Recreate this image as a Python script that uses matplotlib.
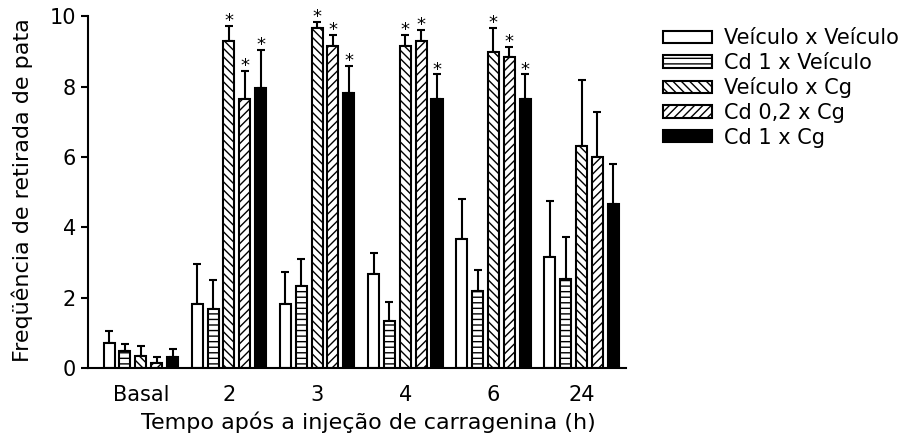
import numpy as np
import matplotlib
matplotlib.use("Agg")
import matplotlib.pyplot as plt

plt.rcParams["font.family"] = ["DejaVu Sans"]
plt.rcParams["hatch.linewidth"] = 1.0

# --- data ---
groups = ["Basal", "2", "3", "4", "6", "24"]
series = ["Veículo x Veículo", "Cd 1 x Veículo", "Veículo x Cg", "Cd 0,2 x Cg", "Cd 1 x Cg"]

veic_veic = [0.72, 1.82, 1.82, 2.67, 3.68, 3.16]
cd1_veic = [0.49, 1.67, 2.33, 1.34, 2.20, 2.53]
veic_cg = [0.34, 9.31, 9.68, 9.17, 8.99, 6.32]
cd02_cg = [0.15, 7.65, 9.17, 9.31, 8.84, 5.99]
cd1_cg = [0.32, 7.97, 7.82, 7.65, 7.65, 4.67]

err_veic_veic = [0.34, 1.13, 0.90, 0.59, 1.13, 1.60]
err_cd1_veic = [0.21, 0.85, 0.77, 0.53, 0.58, 1.21]
err_veic_cg = [0.29, 0.42, 0.16, 0.30, 0.69, 1.86]
err_cd02_cg = [0.16, 0.79, 0.30, 0.31, 0.30, 1.28]
err_cd1_cg = [0.22, 1.07, 0.77, 0.70, 0.70, 1.12]

# asterisks (significant) per series, per group
sig_veic_cg = [0, 1, 1, 1, 1, 0]
sig_cd02_cg = [0, 1, 1, 1, 1, 0]
sig_cd1_cg = [0, 1, 1, 1, 1, 0]

values = [veic_veic, cd1_veic, veic_cg, cd02_cg, cd1_cg]
errors = [err_veic_veic, err_cd1_veic, err_veic_cg, err_cd02_cg, err_cd1_cg]
sigs = [[0] * 6, [0] * 6, sig_veic_cg, sig_cd02_cg, sig_cd1_cg]

# --- styles ---
faces = ["white", "white", "white", "white", "black"]
hatches = [None, "---", "\\\\\\\\", "////", None]

fig = plt.figure(figsize=(9.16, 4.42), dpi=100)
ax = fig.add_axes([0.096, 0.167, 0.587, 0.796])

x = np.arange(len(groups))
step = 0.18
width = 0.125
for i, (vals, errs, sg) in enumerate(zip(values, errors, sigs)):
    pos = x + (i - 2) * step
    ax.bar(pos, vals, width=width, color=faces[i], edgecolor="black",
           linewidth=1.5, hatch=hatches[i], label=series[i], zorder=2)
    ax.errorbar(pos, vals, yerr=[np.zeros(len(vals)), errs], fmt="none",
                ecolor="black", elinewidth=1.5, capsize=3, capthick=1.5, zorder=1)
    for p, v, e, s in zip(pos, vals, errs, sg):
        if s:
            ax.text(p, v + e - 0.12, "*", ha="center", va="bottom", fontsize=13)

ax.set_xlim(-0.6, 5.5)
ax.set_ylim(0, 10)
ax.set_yticks([0, 2, 4, 6, 8, 10])
ax.set_xticks(x)
ax.set_xticklabels(groups)
ax.tick_params(axis="x", length=0, pad=12, labelsize=15)
ax.tick_params(axis="y", length=5, width=1.5, labelsize=15)
ax.spines["top"].set_visible(False)
ax.spines["right"].set_visible(False)
ax.spines["left"].set_linewidth(1.5)
ax.spines["bottom"].set_linewidth(1.5)
ax.set_ylabel("Freqüência de retirada de pata", fontsize=16)
ax.yaxis.set_label_coords(-0.102, 0.506)
ax.set_xlabel("Tempo após a injeção de carragenina (h)", fontsize=16)
ax.xaxis.set_label_coords(0.522, -0.122)

ax.legend(loc="upper left", bbox_to_anchor=(1.054, 0.99), frameon=False,
          fontsize=15, handlelength=2.35, handleheight=0.55, handletextpad=0.6,
          labelspacing=0.22, borderaxespad=0)

fig.savefig("out.png", dpi=100)
